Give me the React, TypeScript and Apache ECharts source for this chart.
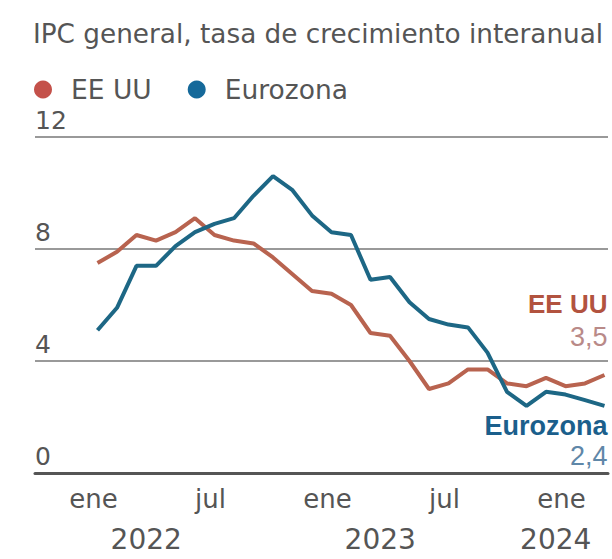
import React, { useEffect, useRef } from "react";
import * as echarts from "echarts";

const months = [
  "2022-01","2022-02","2022-03","2022-04","2022-05","2022-06","2022-07","2022-08","2022-09","2022-10","2022-11","2022-12",
  "2023-01","2023-02","2023-03","2023-04","2023-05","2023-06","2023-07","2023-08","2023-09","2023-10","2023-11","2023-12",
  "2024-01","2024-02","2024-03",
];
const usValues = [7.5,7.9,8.5,8.3,8.6,9.1,8.5,8.3,8.2,7.7,7.1,6.5,6.4,6.0,5.0,4.9,4.0,3.0,3.2,3.7,3.7,3.2,3.1,3.4,3.1,3.2,3.5];
const euroValues = [5.1,5.9,7.4,7.4,8.1,8.6,8.9,9.1,9.9,10.6,10.1,9.2,8.6,8.5,6.9,7.0,6.1,5.5,5.3,5.2,4.3,2.9,2.4,2.9,2.8,2.6,2.4];
const seriesNames = ["EE UU", "Eurozona"];
const monthTickIndex = [0, 6, 12, 18, 24];
const monthTickText = ["ene", "jul", "ene", "jul", "ene"];
const yearTickPos = [2.5, 14.5, 23.5];
const yearTickText = ["2022", "2023", "2024"];
const yTicks = [0, 4, 8, 12];
const titleText = "IPC general, tasa de crecimiento interanual";

const US_LINE = "#b8634f";
const US_DOT = "#c4514a";
const EU_LINE = "#1d6785";
const EU_DOT = "#15699a";
const FONT = "DejaVu Sans";
const BOLD_FONT = "Liberation Sans";

const fmt = (v: number) => v.toFixed(1).replace(".", ",");

export default function App() {
  const ref = useRef<HTMLDivElement>(null);
  useEffect(() => {
    if (!ref.current) return;
    const chart = echarts.init(ref.current, undefined, { renderer: "svg" });
    const toPairs = (arr: number[]) => arr.map((v, i) => [i, v]);
    const lastIdx = months.length - 1;
    chart.setOption({
      animation: false,
      title: {
        text: titleText,
        left: 28,
        top: 14,
        textStyle: { fontFamily: FONT, fontSize: 26.3, fontWeight: "normal", color: "#555", lineHeight: 30 },
      },
      legend: {
        left: 29,
        top: 71,
        itemWidth: 18,
        itemHeight: 18,
        itemGap: 36,
        icon: "circle",
        data: [
          { name: seriesNames[0], itemStyle: { color: US_DOT } },
          { name: seriesNames[1], itemStyle: { color: EU_DOT } },
        ],
        textStyle: { fontFamily: FONT, fontSize: 26.5, color: "#555", padding: [0, 0, 0, 14] },
      },
      grid: { left: 35, right: 4, top: 137, bottom: 86, containLabel: false },
      xAxis: [
        {
          type: "value",
          min: -3.205,
          max: 26.18,
          axisLine: { show: true, lineStyle: { color: "#555", width: 3 } },
          axisTick: { show: false },
          splitLine: { show: false },
          axisLabel: {
            customValues: monthTickIndex,
            formatter: (v: number) => monthTickText[monthTickIndex.indexOf(Math.round(v))] ?? "",
            fontFamily: FONT,
            fontSize: 26,
            color: "#555",
            margin: 13,
            padding: [0, 8, 0, 0],
          },
        },
        {
          type: "value",
          position: "bottom",
          min: -3.205,
          max: 26.18,
          axisLine: { show: false },
          axisTick: { show: false },
          splitLine: { show: false },
          axisLabel: {
            customValues: yearTickPos,
            formatter: (v: number) => {
              const k = yearTickPos.findIndex((p) => Math.abs(p - v) < 0.01);
              return k >= 0 ? yearTickText[k] : "";
            },
            fontFamily: FONT,
            fontSize: 28,
            color: "#555",
            margin: 52,
          },
        },
      ],
      yAxis: {
        type: "value",
        min: yTicks[0],
        max: yTicks[yTicks.length - 1],
        interval: 4,
        axisLine: { show: false },
        axisTick: { show: false },
        splitLine: { lineStyle: { color: "#999", width: 2 } },
        axisLabel: {
          inside: true,
          margin: 0,
          align: "left",
          verticalAlign: "bottom",
          padding: [0, 0, 4, 0],
          fontFamily: FONT,
          fontSize: 25,
          color: "#555",
        },
      },
      series: [
        {
          name: seriesNames[0],
          type: "line",
          data: toPairs(usValues),
          showSymbol: false,
          color: US_LINE,
          lineStyle: { width: 4, color: US_LINE },
          endLabel: {
            show: true,
            distance: 0,
            align: "right",
            verticalAlign: "middle",
            offset: [3, -55],
            formatter: () => `{a|${seriesNames[0]}}\n{b|${fmt(usValues[lastIdx])}}`,
            rich: {
              a: { fontFamily: BOLD_FONT, fontWeight: "bold", fontSize: 26, color: "#b2533f", lineHeight: 33, align: "right" },
              b: { fontFamily: BOLD_FONT, fontSize: 27, color: "#b98a88", lineHeight: 33, align: "right" },
            },
          },
        },
        {
          name: seriesNames[1],
          type: "line",
          data: toPairs(euroValues),
          showSymbol: false,
          color: EU_LINE,
          lineStyle: { width: 4, color: EU_LINE },
          endLabel: {
            show: true,
            distance: 0,
            align: "right",
            verticalAlign: "middle",
            offset: [3, 35],
            formatter: () => `{a|${seriesNames[1]}}\n{b|${fmt(euroValues[lastIdx])}}`,
            rich: {
              a: { fontFamily: BOLD_FONT, fontWeight: "bold", fontSize: 27, color: "#1b5f8c", lineHeight: 30, align: "right" },
              b: { fontFamily: BOLD_FONT, fontSize: 27, color: "#5f87a8", lineHeight: 30, align: "right" },
            },
          },
        },
      ],
    });
    return () => chart.dispose();
  }, []);
  return <div ref={ref} style={{ width: 612, height: 559, position: "absolute", left: 0, top: 0 }} />;
}
